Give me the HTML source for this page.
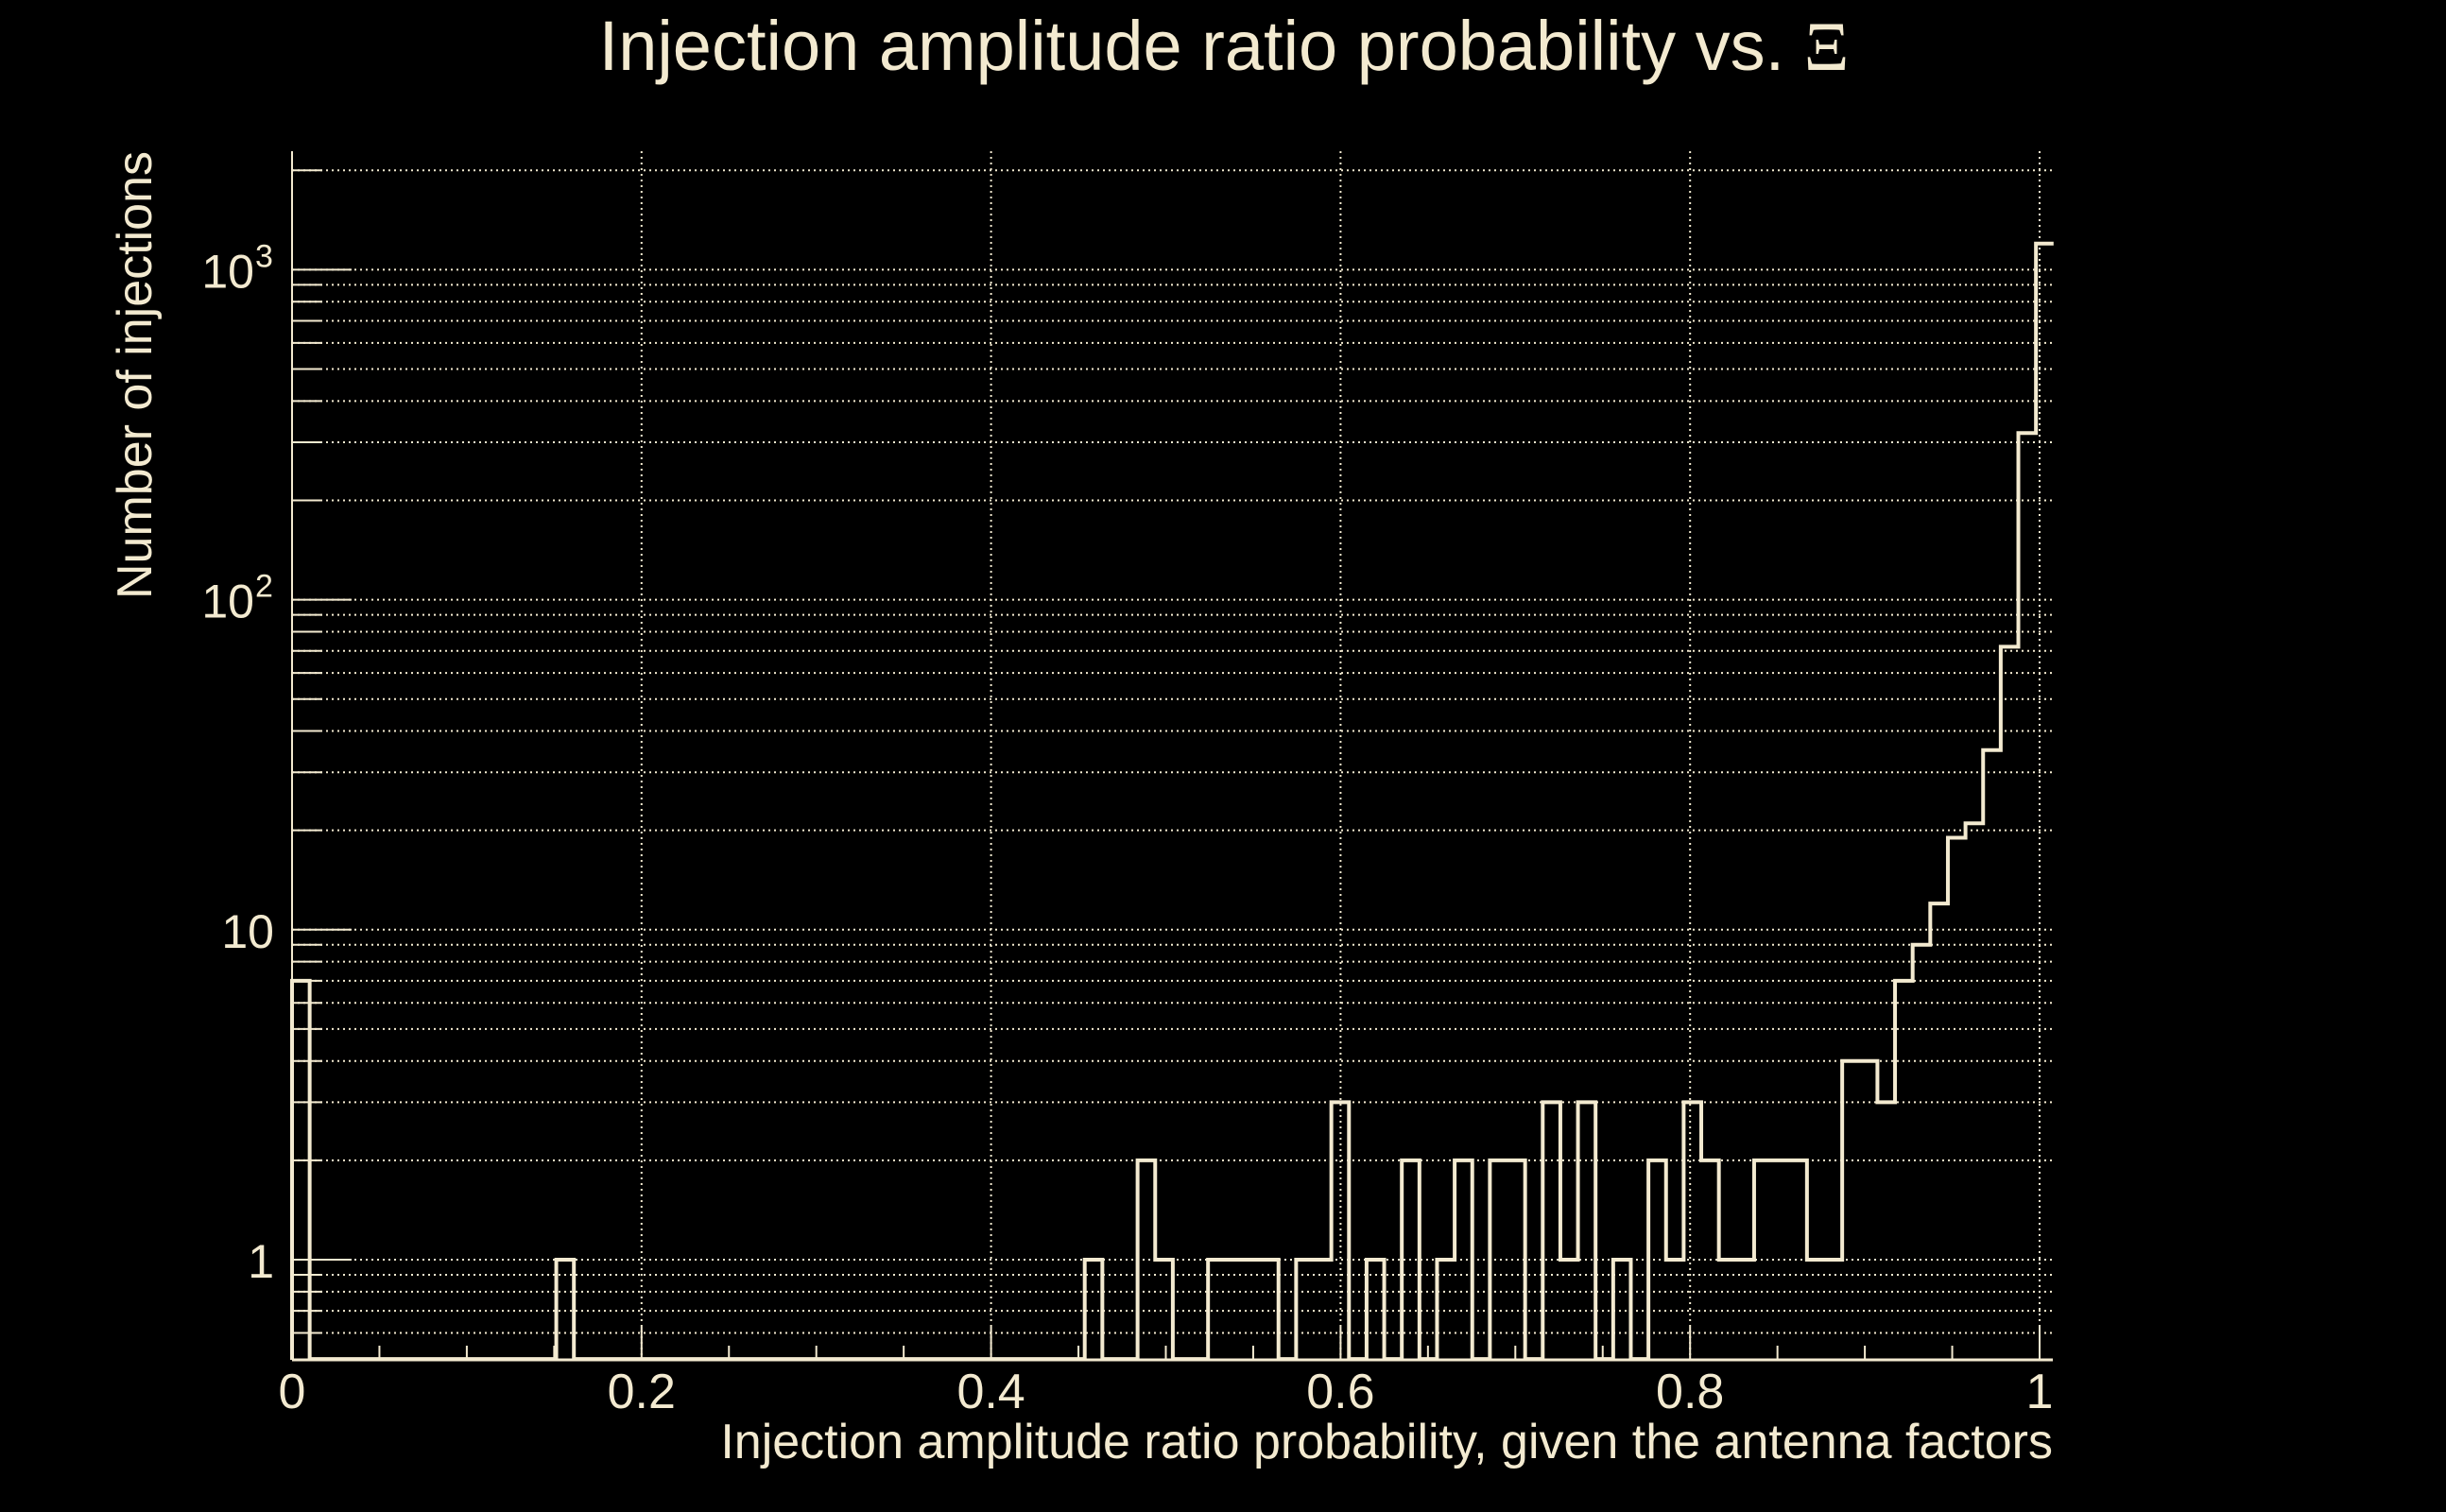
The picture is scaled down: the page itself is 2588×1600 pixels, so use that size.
<!DOCTYPE html>
<html><head><meta charset="utf-8"><style>
html,body{margin:0;padding:0;background:#000;}
svg{display:block;}
text{font-family:"Liberation Sans",sans-serif;fill:#f3ead0;}
</style></head><body>
<svg id="chart" width="2588" height="1600" viewBox="0 0 2588 1600" xmlns="http://www.w3.org/2000/svg">
<rect width="2588" height="1600" fill="#000"/>
<text x="1295" y="74" font-size="74" text-anchor="middle">Injection amplitude ratio probability vs.  <tspan font-family="'Liberation Serif',serif">Ξ</tspan></text>
<text x="2172" y="1543" font-size="52" text-anchor="end">Injection amplitude ratio probability, given the antenna factors</text>
<text transform="translate(160,160) rotate(-90)" font-size="52" text-anchor="end">Number of injections</text>
<g id="grid"></g>
<g id="ticks"></g>
<g id="labels"></g>
<path id="hist" fill="none" stroke="#f3ead0" stroke-width="4" stroke-linejoin="miter"/>
</svg>
<script>
const counts = [7,0,0,0,0,0,0,0,0,0, 0,0,0,0,0,1,0,0,0,0, 0,0,0,0,0,0,0,0,0,0, 0,0,0,0,0,0,0,0,0,0, 0,0,0,0,0,1,0,0,2,1, 0,0,1,1,1,1,0,1,1,3, 0,1,0,2,0,1,2,0,2,2, 0,3,1,3,0,1,0,2,1,3, 2,1,1,2,2,2,1,1,4,4, 3,7,9,12,19,21,35,72,320,1200];
const binWidth = [0.01008];
const xTickLabels = ["0","0.2","0.4","0.6","0.8","1"];
const xTickValues = [0,0.2,0.4,0.6,0.8,1];
const yMajorValues = [1,10,100,1000];
const yMajorLabels = ["1","10","10^2","10^3"];

const NS="http://www.w3.org/2000/svg";
const X0=309, XS=1849, XR=2172, YB=1439, YT=160;
const DEC=349.2, Y1=1333, YMIN=0.5;
function xs(v){return X0+v*XS;}
function ys(v){return Y1-Math.log10(v)*DEC;}
const col="#f3ead0";
function mk(tag,attrs,parent){const e=document.createElementNS(NS,tag);for(const k in attrs)e.setAttribute(k,attrs[k]);parent.appendChild(e);return e;}
const grid=document.getElementById('grid'), ticks=document.getElementById('ticks'), labels=document.getElementById('labels');

const gv=[];
[0.1,1,10,100,1000].forEach(d=>{for(let m=1;m<10;m++){const v=m*d;if(v>YMIN&&ys(v)>YT)gv.push(v);}});
gv.forEach(v=>{
  const y=ys(v);
  const major=yMajorValues.includes(v);
  const g=mk('line',{x1:X0,x2:XR,y1:y,y2:y,stroke:col,'stroke-width':2,'stroke-dasharray':'2,4'},grid);
  
  
  const t=mk('line',{x1:X0,x2:X0+(major?63:32),y1:y,y2:y,stroke:col,'stroke-width':2},ticks);
  
  
});
xTickValues.forEach(v=>{
  const x=xs(v);
  const g=mk('line',{x1:x,x2:x,y1:YT,y2:YB,stroke:col,'stroke-width':2,'stroke-dasharray':'2,4'},grid);
  
  
});
for(let i=0;i<=20;i++){
  const v=i*0.05, x=xs(v), major=(i%4===0);
  const t=mk('line',{x1:x,x2:x,y1:YB,y2:YB-(major?35:15),stroke:col,'stroke-width':2},ticks);
  
  
}
const ax=mk('line',{x1:X0,x2:XR,y1:YB,y2:YB,stroke:col,'stroke-width':3},ticks);


const ay=mk('line',{x1:X0,x2:X0,y1:YT,y2:YB,stroke:col,'stroke-width':2},ticks);


xTickValues.forEach((v,i)=>{
  const t=mk('text',{x:xs(v),y:1490,'font-size':52,'text-anchor':'middle'},labels);
  t.textContent=xTickLabels[i];
  
  
});
yMajorValues.forEach((v,i)=>{
  const y=ys(v)+19;
  const lab=yMajorLabels[i];
  const t=mk('text',{x:lab.includes('^')?269:290,y:y,'font-size':50,'text-anchor':'end'},labels);
  
  
  if(lab.includes('^')){
    const p=lab.split('^');
    t.textContent=p[0];
    const s=mk('text',{x:270,y:y-22,'font-size':34,'text-anchor':'start'},labels);
    s.textContent=p[1];
    
    
  } else t.textContent=lab;
});
let d='M'+xs(0)+','+YB;
counts.forEach((c,i)=>{
  const y=ys(Math.max(c,YMIN));
  d+=' L'+xs(i*binWidth[0])+','+y+' L'+xs((i+1)*binWidth[0])+','+y;
});
document.getElementById('hist').setAttribute('d',d);
</script>
</body></html>
